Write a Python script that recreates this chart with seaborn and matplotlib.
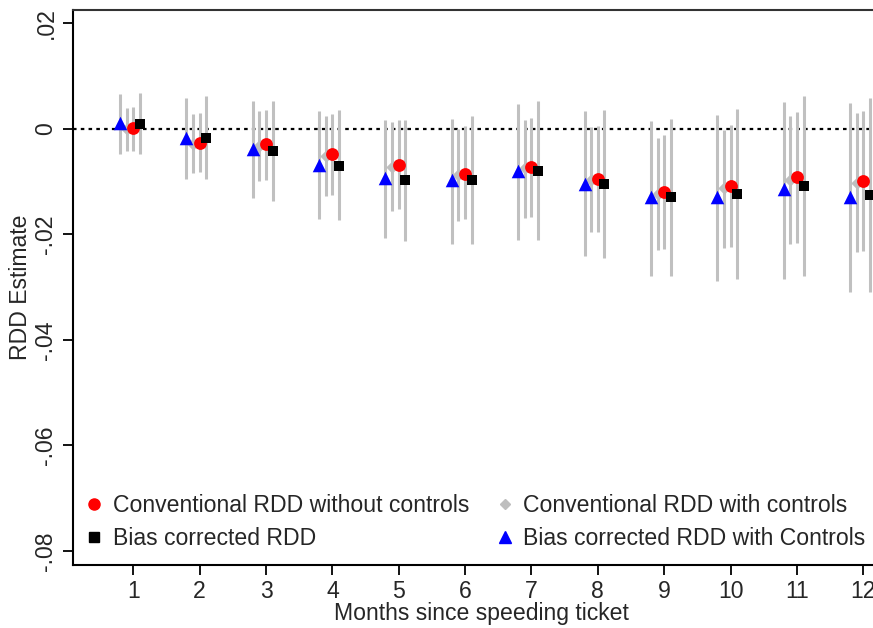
import numpy as np
import pandas as pd
import matplotlib
matplotlib.use("Agg")
import matplotlib.pyplot as plt
import seaborn as sns
from matplotlib.lines import Line2D

months = [1, 2, 3, 4, 5, 6, 7, 8, 9, 10, 11, 12]

# Conventional RDD without controls (red circle)
conv_est = [0.0001, -0.0027, -0.0029, -0.0048, -0.0068, -0.0085, -0.0072, -0.0096, -0.0120, -0.0109, -0.0092, -0.0099]
conv_lo = [-0.0042, -0.0082, -0.0098, -0.0125, -0.0153, -0.0172, -0.0167, -0.0196, -0.0228, -0.0224, -0.0216, -0.0232]
conv_hi = [0.0041, 0.0030, 0.0036, 0.0028, 0.0017, 0.0005, 0.0021, 0.0005, -0.0012, 0.0008, 0.0032, 0.0033]

# Conventional RDD with controls (gray diamond)
convc_est = [0.0000, -0.0028, -0.0033, -0.0052, -0.0072, -0.0088, -0.0075, -0.0098, -0.0123, -0.0113, -0.0098, -0.0103]
convc_lo = [-0.0042, -0.0084, -0.0099, -0.0127, -0.0156, -0.0175, -0.0169, -0.0196, -0.0229, -0.0227, -0.0219, -0.0233]
convc_hi = [0.0040, 0.0028, 0.0034, 0.0024, 0.0012, 0.0000, 0.0016, 0.0003, -0.0017, -0.0002, 0.0024, 0.0029]

# Bias corrected RDD (black square)
bc_est = [0.0009, -0.0018, -0.0042, -0.0070, -0.0097, -0.0097, -0.0080, -0.0105, -0.0129, -0.0124, -0.0108, -0.0126]
bc_lo = [-0.0048, -0.0096, -0.0137, -0.0173, -0.0212, -0.0219, -0.0210, -0.0245, -0.0280, -0.0284, -0.0279, -0.0309]
bc_hi = [0.0067, 0.0062, 0.0052, 0.0035, 0.0017, 0.0024, 0.0052, 0.0035, 0.0019, 0.0037, 0.0062, 0.0058]

# Bias corrected RDD with controls (blue triangle)
bcc_est = [0.0011, -0.0017, -0.0039, -0.0069, -0.0094, -0.0098, -0.0080, -0.0104, -0.0130, -0.0129, -0.0115, -0.0129]
bcc_lo = [-0.0047, -0.0096, -0.0132, -0.0172, -0.0208, -0.0219, -0.0210, -0.0242, -0.0280, -0.0288, -0.0285, -0.0310]
bcc_hi = [0.0066, 0.0059, 0.0052, 0.0033, 0.0016, 0.0019, 0.0046, 0.0033, 0.0014, 0.0026, 0.0050, 0.0049]

labels = ["Conventional RDD without controls", "Bias corrected RDD",
          "Conventional RDD with controls", "Bias corrected RDD with Controls"]
y_ticks = [0.02, 0.0, -0.02, -0.04, -0.06, -0.08]
y_ticklabels = [".02", "0", "-.02", "-.04", "-.06", "-.08"]

sns.set_style("white")
plt.rcParams['font.family'] = ['Liberation Sans', 'DejaVu Sans']
FS = 16.6

fig = plt.figure(figsize=(8.73, 6.28), dpi=100)
ax = fig.add_axes([0.0833, 0.1003, 1.0 - 0.0833 + 0.02, 0.984 - 0.1003])

m = np.array(months, dtype=float)
series = [
    (bcc_est, bcc_lo, bcc_hi, -0.2, "^", "#0000ff", 95, labels[3], 5),
    (convc_est, convc_lo, convc_hi, -0.1, "D", "#bebebe", 40, labels[2], 4),
    (conv_est, conv_lo, conv_hi, 0.0, "o", "#ff0000", 85, labels[0], 6),
    (bc_est, bc_lo, bc_hi, 0.1, "s", "#000000", 60, labels[1], 7),
]

ax.axhline(0, color="black", lw=1.6, ls=(0, (1.6, 1.9)), zorder=1)

for est, lo, hi, off, mk, col, sz, lab, z in series:
    xs = m + off
    ax.vlines(xs, lo, hi, color="#c0c0c0", lw=2.2, zorder=2)
    df = pd.DataFrame({"x": xs, "y": est})
    sns.scatterplot(data=df, x="x", y="y", marker=mk, color=col, s=sz,
                    linewidth=0, ax=ax, zorder=z, legend=False)

leg_handles = [
    Line2D([], [], marker="o", color="#ff0000", ls="", markersize=8),
    Line2D([], [], marker="s", color="#000000", ls="", markersize=6.5),
    Line2D([], [], marker="D", color="#bebebe", ls="", markersize=5.5),
    Line2D([], [], marker="^", color="#0000ff", ls="", markersize=8),
]
ax.legend(leg_handles, labels, ncol=2, loc="lower left",
          bbox_to_anchor=(0.004, 0.011), frameon=False, fontsize=FS,
          handlelength=0.8, handletextpad=0.4, columnspacing=1.13,
          labelspacing=0.43, borderaxespad=0.0)

ax.set_xlim(0.0865, 12.41)
ax.set_ylim(-0.0827, 0.0225)
ax.set_xticks(months)
ax.set_xticklabels([str(v) for v in months], fontsize=FS)
ax.set_yticks(y_ticks)
ax.set_yticklabels(y_ticklabels, fontsize=FS, rotation=90, va="center")
ax.tick_params(axis="both", direction="out", length=7, width=1.3, color="black",
               left=True, bottom=True, pad=4)
ax.set_xlabel("Months since speeding ticket", fontsize=FS, labelpad=-1)
ax.set_ylabel("RDD Estimate", fontsize=FS, labelpad=1.5)

for side in ["left", "bottom", "top"]:
    ax.spines[side].set_visible(True)
    ax.spines[side].set_color("black")
    ax.spines[side].set_linewidth(1.5)
ax.spines["top"].set_color("#333333")
ax.spines["right"].set_visible(False)

fig.savefig("out.png", dpi=100)
